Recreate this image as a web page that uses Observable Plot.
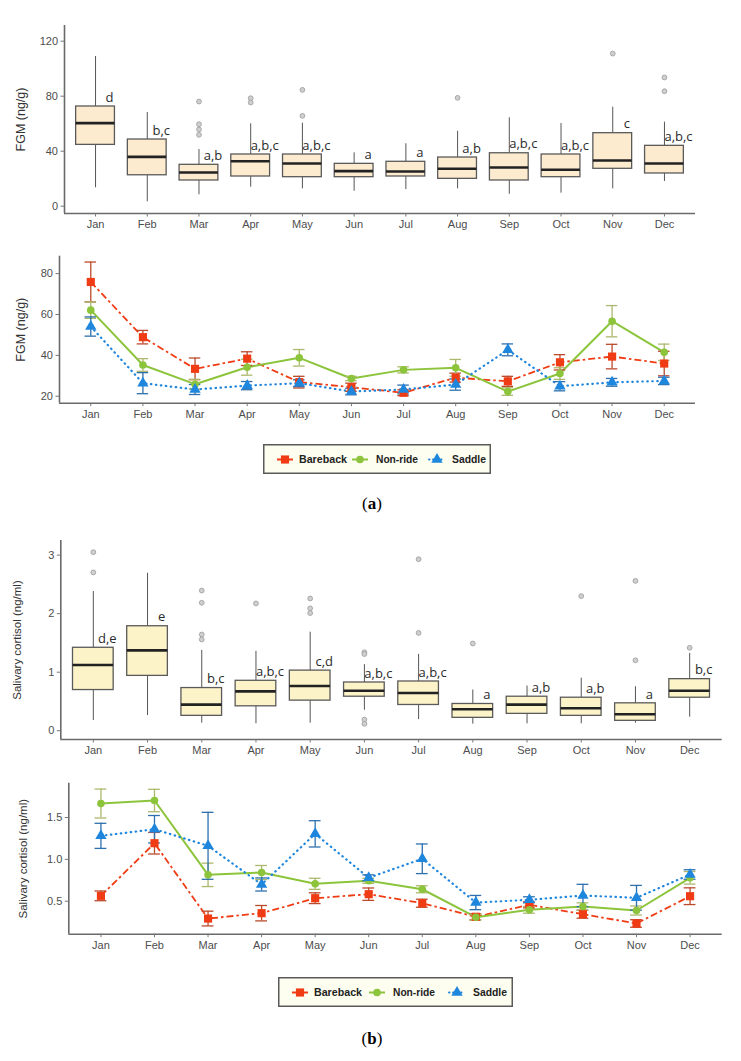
<!DOCTYPE html>
<html><head><meta charset="utf-8">
<script src="https://cdn.jsdelivr.net/npm/d3@7"></script>
<script src="https://cdn.jsdelivr.net/npm/@observablehq/plot@0.6"></script>
<style>
body{margin:0;background:#fff;}
#page{position:relative;width:741px;height:1061px;overflow:hidden;font-family:"Liberation Sans",Arial,sans-serif;}
.panel{position:absolute;left:0;}
.legend{position:absolute;}
.cap{position:absolute;font-family:"Liberation Serif","Times New Roman",serif;font-size:17px;color:#000;transform:translateX(-50%);}
</style></head>
<body><div id="page"></div>
<script>
// ---------- categories ----------
const months = ["Jan","Feb","Mar","Apr","May","Jun","Jul","Aug","Sep","Oct","Nov","Dec"];
const groups = ["Bareback","Non-ride","Saddle"];

// ---------- (a) top: FGM boxplots ----------
const fgmLow  = [13.4, 3.2, 8.3, 13.8, 12.6, 10.9, 12.1, 12.6, 8.7, 9.5, 12.6, 18.0];
const fgmQ1   = [44.6, 22.5, 18.7, 21.6, 21.1, 21.1, 21.6, 19.9, 18.7, 21.1, 27.2, 23.8];
const fgmMed  = [60.4, 35.9, 24.5, 32.7, 31.1, 25.5, 25.2, 27.2, 28.1, 26.5, 33.2, 31.1];
const fgmQ3   = [72.5, 48.5, 30.1, 37.6, 37.6, 30.8, 32.3, 35.4, 38.5, 37.6, 53.1, 43.9];
const fgmHigh = [108.9, 68.1, 41.2, 59.9, 60.4, 38.8, 45.4, 54.5, 64.3, 60.1, 72.0, 61.1];
const fgmOutliers = [[], [], [76.1, 59.6, 55.8, 51.9], [78.5, 75.4], [84.6, 65.7], [], [], [78.8], [], [], [111.0], [93.6, 83.6]];
const fgmLetters = ["d","b,c","a,b","a,b,c","a,b,c","a","a","a,b","a,b,c","a,b,c","c","a,b,c"];

// ---------- (a) bottom: FGM means by group ----------
const fgmBareback    = [75.9, 48.9, 33.4, 38.4, 26.9, 24.4, 21.7, 29.1, 27.3, 36.6, 39.4, 36.0];
const fgmBarebackErr = [9.75, 3.3, 5.3, 3.35, 2.85, 2.0, 1.4, 2.2, 2.45, 3.75, 6.0, 6.0];
const fgmNonride     = [62.1, 35.3, 25.9, 34.2, 38.8, 28.7, 32.9, 33.9, 22.3, 31.1, 56.7, 41.5];
const fgmNonrideErr  = [4.0, 3.1, 2.4, 3.9, 4.05, 1.05, 1.5, 4.1, 1.85, 2.85, 7.65, 4.0];
const fgmSaddle      = [54.1, 26.4, 23.3, 25.2, 26.4, 22.3, 23.3, 25.7, 42.7, 24.9, 26.8, 27.5];
const fgmSaddleErr   = [4.7, 5.15, 2.45, 2.0, 1.65, 1.6, 2.15, 2.75, 2.9, 2.25, 1.9, 1.8];

// ---------- (b) top: salivary cortisol boxplots ----------
const corLow  = [0.175, 0.259, 0.129, 0.119, 0.129, 0.35, 0.19, 0.112, 0.118, 0.118, 0.129, 0.231];
const corQ1   = [0.695, 0.937, 0.254, 0.417, 0.514, 0.581, 0.44, 0.22, 0.288, 0.254, 0.169, 0.564];
const corMed  = [1.124, 1.373, 0.446, 0.672, 0.763, 0.683, 0.644, 0.367, 0.446, 0.383, 0.282, 0.683];
const corQ3   = [1.417, 1.785, 0.729, 0.853, 1.027, 0.824, 0.841, 0.457, 0.581, 0.564, 0.468, 0.881];
const corHigh = [2.378, 2.69, 1.373, 1.356, 1.683, 1.129, 1.305, 0.695, 0.763, 0.898, 0.751, 1.322];
const corOutliers = [[3.05, 2.705], [], [2.395, 2.186, 1.644, 1.559], [2.175], [2.259, 2.09, 2.01], [1.34, 1.31, 0.19, 0.118], [2.93, 1.671], [1.49], [], [2.30], [2.56, 1.203], [1.417]];
const corLetters = ["d,e","e","b,c","a,b,c","c,d","a,b,c","a,b,c","a","a,b","a,b","a","b,c"];

// ---------- (b) bottom: cortisol means by group ----------
const corBareback    = [0.564, 1.193, 0.293, 0.357, 0.536, 0.584, 0.476, 0.314, 0.457, 0.345, 0.234, 0.560];
const corBarebackErr = [0.058, 0.129, 0.088, 0.092, 0.064, 0.074, 0.048, 0.038, 0.036, 0.048, 0.045, 0.10];
const corNonride     = [1.667, 1.703, 0.815, 0.843, 0.708, 0.744, 0.643, 0.309, 0.397, 0.437, 0.389, 0.780];
const corNonrideErr  = [0.173, 0.134, 0.14, 0.084, 0.066, 0.03, 0.042, 0.036, 0.04, 0.044, 0.054, 0.075];
const corSaddle      = [1.281, 1.360, 1.162, 0.700, 1.305, 0.780, 1.007, 0.484, 0.517, 0.568, 0.541, 0.819];
const corSaddleErr   = [0.15, 0.164, 0.40, 0.078, 0.157, 0.035, 0.177, 0.085, 0.036, 0.134, 0.148, 0.057];

// ---------- styles ----------
const groupStyle = {
  "Bareback": {color:"#f03c14", err:"#bb4a2c", symbol:"square", r:4.6, dash:"7,3,2.5,3", width:1.8, cap:"butt", legendW:48},
  "Non-ride": {color:"#8cc43c", err:"#acb86c", symbol:"circle", r:3.8, dash:null, width:2, cap:"butt", legendW:42},
  "Saddle":   {color:"#1f86de", err:"#2e70ae", symbol:"triangle", r:4.2, dash:"0.5,4.5", width:2.2, cap:"round", legendW:34}
};
const page = document.getElementById("page");
const xTicks = months.map((m, i) => i + 1);

function place(el, top) {
  el.classList.add("panel");
  el.style.top = top + "px";
  page.appendChild(el);
}

function axisMarks(cfg) {
  return [
    Plot.ruleX([cfg.xDomain[0]], {stroke:"#6a6a6a", strokeWidth:1.6}),
    Plot.ruleY([cfg.yDomain[0]], {stroke:"#6a6a6a", strokeWidth:1.6}),
    Plot.axisX({ticks: xTicks, tickFormat: d => months[d - 1], tickSize:3.5, tickPadding:3, stroke:"#777", fill:"#4d4d4d", fontSize:11, label:null}),
    Plot.axisY({ticks: cfg.yTicks, tickFormat: cfg.yFormat, tickSize:3.5, tickPadding:3, stroke:"#777", fill:"#4d4d4d", fontSize:11, label:null}),
    Plot.axisY({ticks: [], tickSize:0, fill:"#333", fontSize: cfg.labelSize,
      label: cfg.label, labelAnchor:"center", labelArrow:"none", labelOffset: cfg.labelOffset})
  ];
}

function boxPanel(cfg) {
  const rows = months.map((m, i) => ({i: i + 1, lo: cfg.lo[i], q1: cfg.q1[i], med: cfg.med[i], q3: cfg.q3[i], hi: cfg.hi[i], letter: cfg.letters[i]}));
  const outs = cfg.outliers.flatMap((vals, i) => vals.map(v => ({i: i + 1, v})));
  const hw = 0.375;
  const plot = Plot.plot({
    width: 741, height: cfg.height,
    marginTop: cfg.mt, marginBottom: cfg.mb, marginLeft: cfg.ml, marginRight: cfg.mr,
    style: {fontFamily: "'Liberation Sans', Arial, sans-serif", fontSize: "11px", color: "#333", background: "transparent"},
    x: {type: "linear", domain: cfg.xDomain},
    y: {domain: cfg.yDomain},
    marks: [
      Plot.ruleX(rows, {x: "i", y1: "q3", y2: "hi", stroke: "#555", strokeWidth: 1}),
      Plot.ruleX(rows, {x: "i", y1: "lo", y2: "q1", stroke: "#555", strokeWidth: 1}),
      Plot.rect(rows, {x1: d => d.i - hw, x2: d => d.i + hw, y1: "q1", y2: "q3", fill: cfg.fill, stroke: "#5a5a5a", strokeWidth: 1.3}),
      Plot.ruleY(rows, {x1: d => d.i - hw, x2: d => d.i + hw, y: "med", stroke: "#222", strokeWidth: 2.6}),
      Plot.dot(outs, {x: "i", y: "v", r: 2.4, fill: "#cfcfcf", stroke: "#a8a8a8", strokeWidth: 1}),
      Plot.text(rows, {x: "i", y: "q3", text: "letter", dx: 14, dy: -9, fontSize: 13, fontWeight: 500, fill: "#2b2b2b", fontFamily: "'Open Sans', sans-serif"}),
      ...axisMarks(cfg)
    ]
  });
  place(plot, cfg.top);
}

function linePanel(cfg) {
  const series = groups.map((g, k) => ({g, rows: months.map((m, i) => ({i: i + 1, mean: cfg.means[k][i], err: cfg.errs[k][i]}))}));
  const cw = 0.11;
  const lines = series.map(s => { const st = groupStyle[s.g];
    return Plot.line(s.rows, {x: "i", y: "mean", stroke: st.color, strokeWidth: st.width, strokeDasharray: st.dash, strokeLinecap: st.cap}); });
  const errs = series.flatMap(s => { const st = groupStyle[s.g];
    return [
      Plot.ruleX(s.rows, {x: "i", y1: d => d.mean - d.err, y2: d => d.mean + d.err, stroke: st.err, strokeWidth: 1.3}),
      Plot.ruleY(s.rows, {x1: d => d.i - cw, x2: d => d.i + cw, y: d => d.mean + d.err, stroke: st.err, strokeWidth: 1.3}),
      Plot.ruleY(s.rows, {x1: d => d.i - cw, x2: d => d.i + cw, y: d => d.mean - d.err, stroke: st.err, strokeWidth: 1.3})
    ]; });
  const pts = series.map(s => { const st = groupStyle[s.g];
    return Plot.dot(s.rows, {x: "i", y: "mean", symbol: st.symbol, r: st.r, fill: st.color, stroke: "none"}); });
  const plot = Plot.plot({
    width: 741, height: cfg.height,
    marginTop: cfg.mt, marginBottom: cfg.mb, marginLeft: cfg.ml, marginRight: cfg.mr,
    style: {fontFamily: "'Liberation Sans', Arial, sans-serif", fontSize: "11px", color: "#333", background: "transparent"},
    x: {type: "linear", domain: cfg.xDomain},
    y: {domain: cfg.yDomain},
    marks: [...lines, ...errs, ...pts, ...axisMarks(cfg)]
  });
  place(plot, cfg.top);
}

function legend(left, top, w, h, pos) {
  const ns = "http://www.w3.org/2000/svg";
  const svg = document.createElementNS(ns, "svg");
  svg.setAttribute("width", w); svg.setAttribute("height", h);
  svg.classList.add("legend");
  svg.style.left = left + "px"; svg.style.top = top + "px";
  let html = `<rect x="0.75" y="0.75" width="${w - 1.5}" height="${h - 1.5}" fill="#fdfdf0" stroke="#5a5a5a" stroke-width="1.5"/>`;
  const cy = h / 2 + 0.5;
  groups.forEach((g, k) => {
    const st = groupStyle[g];
    const mx = pos[k][0], tx = pos[k][1];
    html += `<line x1="${mx - 8}" x2="${mx + 8}" y1="${cy}" y2="${cy}" stroke="${st.color}" stroke-width="2" ${st.dash ? `stroke-dasharray="${g === "Saddle" ? "0.5,3.5" : "4,2"}" stroke-linecap="${st.cap}"` : ""}/>`;
    const path = d3.symbol(g === "Bareback" ? d3.symbolSquare : g === "Non-ride" ? d3.symbolCircle : d3.symbolTriangle, st.r * st.r * Math.PI)();
    html += `<path d="${path}" transform="translate(${mx},${cy})" fill="${st.color}"/>`;
    html += `<text x="${tx}" y="${cy}" dy="0.36em" font-family="'Liberation Sans', Arial, sans-serif" font-weight="bold" font-size="11" fill="#222" textLength="${st.legendW}" lengthAdjust="spacingAndGlyphs" style="font-size:11px">${g}</text>`;
  });
  svg.innerHTML = html;
  page.appendChild(svg);
}

function caption(letter, cx, top) {
  const d = document.createElement("div");
  d.className = "cap";
  d.style.left = cx + "px"; d.style.top = top + "px";
  d.innerHTML = `(<b>${letter}</b>)`;
  page.appendChild(d);
}

// ---- panel (a) top
boxPanel({top: 0, height: 235, mt: 25, mb: 22, ml: 64, mr: 46,
  xDomain: [0.4, 12.6], yDomain: [-5.3, 131.4], yTicks: [0, 40, 80, 120], yFormat: d3.format("d"),
  label: "FGM (ng/g)", labelOffset: 48, labelSize: 12.5,
  lo: fgmLow, q1: fgmQ1, med: fgmMed, q3: fgmQ3, hi: fgmHigh, outliers: fgmOutliers, letters: fgmLetters, fill: "#fdebd0"});

// ---- panel (a) bottom
linePanel({top: 240, height: 185, mt: 15.7, mb: 22.3, ml: 59, mr: 46,
  xDomain: [0.4, 12.6], yDomain: [16.6, 88.5], yTicks: [20, 40, 60, 80], yFormat: d3.format("d"),
  label: "FGM (ng/g)", labelOffset: 43, labelSize: 12.5,
  means: [fgmBareback, fgmNonride, fgmSaddle], errs: [fgmBarebackErr, fgmNonrideErr, fgmSaddleErr]});

legend(263, 444, 228, 30, [[22, 36], [97, 113], [174, 189]]);
caption("a", 372, 494);

// ---- panel (b) top
boxPanel({top: 535, height: 226, mt: 5, mb: 22, ml: 60.3, mr: 19.3,
  xDomain: [0.4, 12.6], yDomain: [-0.15, 3.25], yTicks: [0, 1, 2, 3], yFormat: d3.format("d"),
  label: "Salivary cortisol (ng/ml)", labelOffset: 48, labelSize: 11.5,
  lo: corLow, q1: corQ1, med: corMed, q3: corQ3, hi: corHigh, outliers: corOutliers, letters: corLetters, fill: "#fdf3c8"});

// ---- panel (b) bottom
linePanel({top: 770, height: 186, mt: 12.7, mb: 22.3, ml: 68.3, mr: 19.3,
  xDomain: [0.4, 12.6], yDomain: [0.106, 1.91], yTicks: [0.5, 1.0, 1.5], yFormat: d3.format(".1f"),
  label: "Salivary cortisol (ng/ml)", labelOffset: 50, labelSize: 11.5,
  means: [corBareback, corNonride, corSaddle], errs: [corBarebackErr, corNonrideErr, corSaddleErr]});

legend(278, 977, 235, 30, [[22, 36], [99, 115], [179, 195]]);
caption("b", 372, 1029);
</script>
</body></html>
